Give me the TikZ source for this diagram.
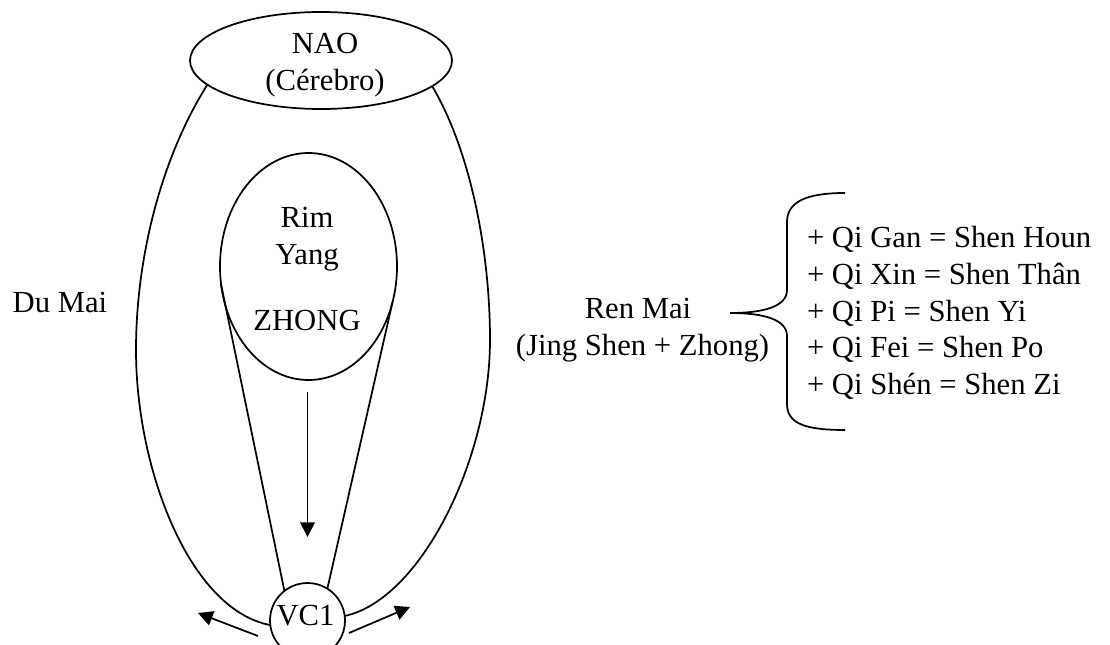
\documentclass[tikz,border=0pt]{standalone}
\usepackage{fontspec}
\setmainfont{Liberation Serif}
\usetikzlibrary{shapes.geometric,arrows.meta}
\begin{document}
\begin{tikzpicture}[x=0.75pt,y=-0.75pt,
  every node/.style={inner sep=0pt, outer sep=0pt, font=\fontsize{23}{27.5}\selectfont},
  shapeline/.style={draw, line width=1.3pt},
  conn/.style={line width=1.3pt},
  arr/.style={line width=1.3pt, -{Triangle[length=11pt,width=11pt]}},
  txt/.style={anchor=base},
  listtxt/.style={anchor=base west}]
\useasboundingbox (0,0) rectangle (1110,645);
\fill[white] (0,0) rectangle (1110,645);
\clip (0,0) rectangle (1110,645);

% NAO
\node[ellipse, shapeline, minimum width=196.5pt, minimum height=72.75pt] (nao) at (321,60.5) {};
\node[txt] (naoA) at (325,54) {NAO};
\node[txt] (naoB) at (325,91) {(Cérebro)};

% inner ellipse
\node[ellipse, shapeline, minimum width=132.75pt, minimum height=170.25pt] (inner) at (308.5,266.5) {};
\node[txt] (rim) at (307,228) {Rim};
\node[txt] (yang) at (307,265) {Yang};
\node[txt] (zhong) at (307,330) {ZHONG};

% VC1
\node[circle, shapeline, minimum size=56.25pt] (vc) at (307.5,620.5) {};
\node[txt] (vctext) at (305.5,625) {VC1};

% labels
\node[txt] (dumai) at (60,313) {Du Mai};
\node[txt] (renA) at (638,318.3) {Ren Mai};
\node[txt] (renB) at (642.5,355.5) {(Jing Shen + Zhong)};

\node[listtxt] (q1) at (807,248) {+ Qi Gan = Shen Houn};
\node[listtxt] (q2) at (807,284.5) {+ Qi Xin = Shen Thân};
\node[listtxt] (q3) at (807,321) {+ Qi Pi = Shen Yi};
\node[listtxt] (q4) at (807,357.5) {+ Qi Fei = Shen Po};
\node[listtxt] (q5) at (807,394) {+ Qi Shén = Shen Zi};

% outer channels
\draw[conn] (nao.192) .. controls (160,160) and (136,260) .. (136,350)
  .. controls (136,470) and (190,610) .. (vc.187);
\draw[conn] (nao.-13) .. controls (470,150) and (490,250) .. (490,340)
  .. controls (490,460) and (420,600) .. (vc.7);

% inner lines
\draw[conn] (inner.192) -- (vc.128);
\draw[conn] (inner.-23) -- (vc.58);

% arrows
\coordinate (a1) at (307.5,392);
\coordinate (a2) at (307.5,537);
\draw[arr] (a1) -- (a2);
\coordinate (l1) at (258,636);
\coordinate (l2) at (198,613);
\draw[arr] (l1) -- (l2);
\coordinate (r1) at (349,633);
\coordinate (r2) at (410,607);
\draw[arr] (r1) -- (r2);

% brace
\draw[conn] (845,193) .. controls (806,193) and (787,202) .. (787,222) -- (787,290)
  .. controls (787,306) and (765,313) .. (730,313)
  .. controls (765,313) and (787,320) .. (787,336) -- (787,404)
  .. controls (787,424) and (806,430) .. (845,430);
\end{tikzpicture}
\end{document}
